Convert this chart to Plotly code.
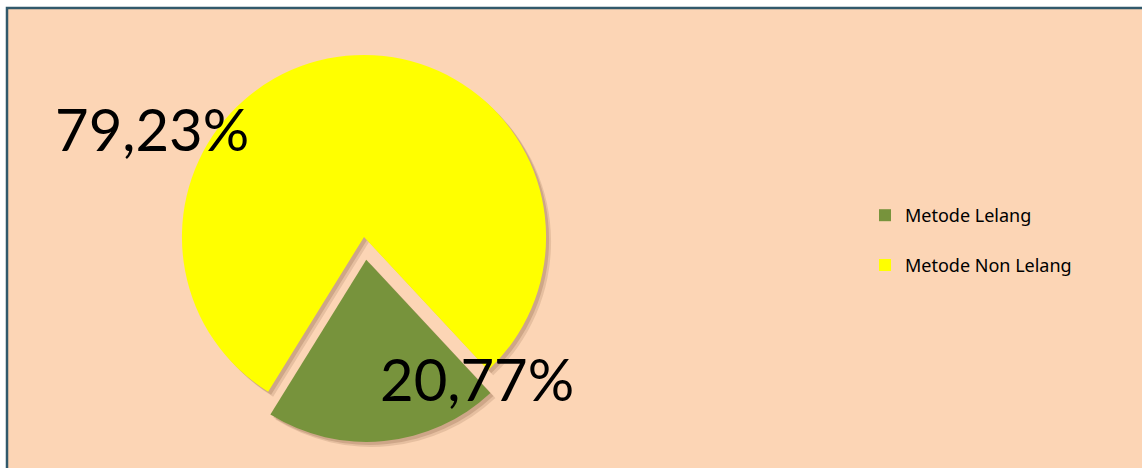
import plotly.graph_objects as go

labels = ["Metode Lelang", "Metode Non Lelang"]
values = [20.77, 79.23]
colors = ["#77933C", "#FFFF00"]
pulls = [0.126, 0]

W, H = 1142, 468


def pct(v):
    return f"{v:.2f}".replace(".", ",") + "%"


# pie placement in pixels -> paper domain
cx, cy, half = 364, 237, 205
dom_x = [(cx - half) / W, (cx + half) / W]
dom_y = [(H - cy - half) / H, (H - cy + half) / H]

fig = go.Figure()

# soft drop shadow behind the slices (two offsets for a blurred look)
for sh, op in [(5, 0.15), (3, 0.2)]:
    fig.add_trace(go.Pie(
        labels=labels, values=values, sort=False,
        direction="clockwise", rotation=137, pull=pulls,
        marker=dict(colors=[f"rgba(110,70,40,{op})"] * 2, line=dict(width=0)),
        textinfo="none", hoverinfo="skip", showlegend=False,
        domain=dict(x=[dom_x[0] + sh / W, dom_x[1] + sh / W],
                    y=[dom_y[0] - sh / H, dom_y[1] - sh / H]),
    ))

fig.add_trace(go.Pie(
    labels=[l + "<br> " for l in labels], values=values, sort=False,
    direction="clockwise", rotation=137, pull=pulls,
    marker=dict(colors=colors, line=dict(width=0)),
    textinfo="none", hoverinfo="label+percent",
    domain=dict(x=dom_x, y=dom_y),
))

# value labels
fig.add_annotation(x=152 / W, y=(H - 128) / H, xref="paper", yref="paper",
                   xanchor="center", yanchor="middle",
                   text=pct(values[1]), showarrow=False,
                   font=dict(size=58, color="black", family="Lato"))
fig.add_annotation(x=477 / W, y=(H - 378) / H, xref="paper", yref="paper",
                   xanchor="center", yanchor="middle",
                   text=pct(values[0]), showarrow=False,
                   font=dict(size=58, color="black", family="Lato"))

# chart area frame
fig.add_shape(type="rect", xref="paper", yref="paper",
              x0=7 / W, x1=1.05, y0=-0.05, y1=(H - 8) / H,
              fillcolor="#FCD5B5", line=dict(color="#31596B", width=2.5),
              layer="below")

fig.update_layout(
    width=W, height=H,
    margin=dict(l=0, r=0, t=0, b=0),
    paper_bgcolor="white",
    font=dict(family="Noto Sans", color="black"),
    legend=dict(x=865 / W, y=(H - 252) / H, yanchor="middle", xanchor="left",
                font=dict(size=18, color="black", family="Noto Sans"),
                valign="top", bgcolor="rgba(0,0,0,0)"),
)

fig.write_html("out.html", config={"displayModeBar": False},
               post_script="document.body.style.margin='0';")
